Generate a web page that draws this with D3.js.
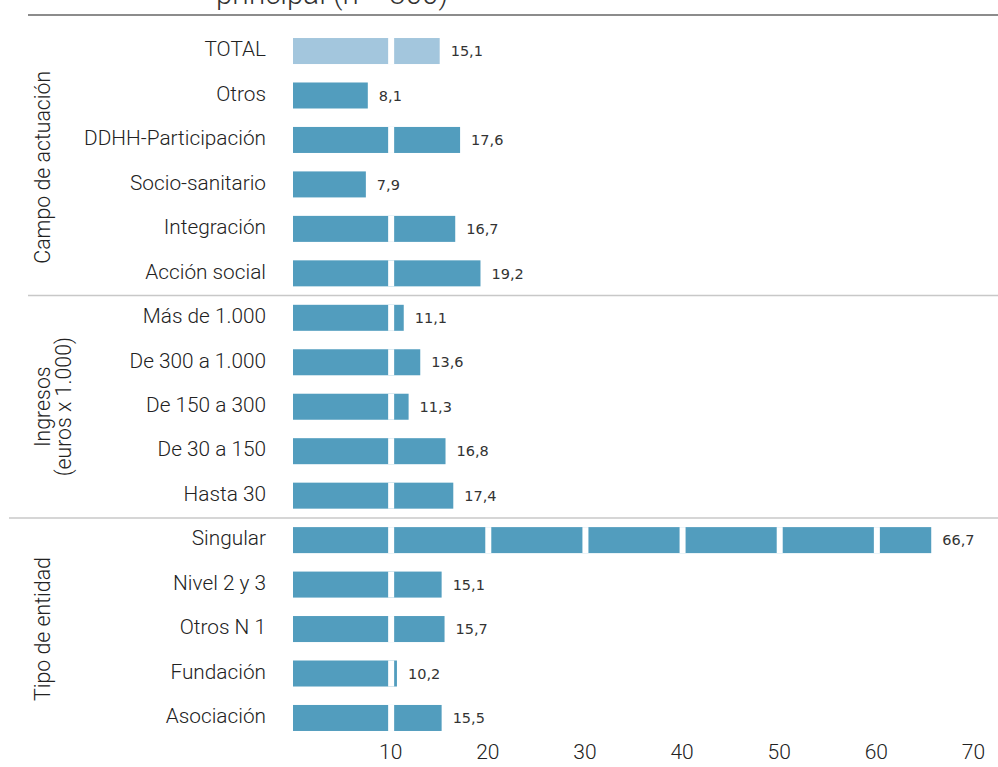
<!DOCTYPE html>
<html>
<head>
<meta charset="utf-8">
<script src="https://cdn.jsdelivr.net/npm/d3@7"></script>
<style>
  html, body { margin: 0; padding: 0; background: #fff; }
  svg { display: block; }
</style>
</head>
<body>
<svg id="chart" width="998" height="767"></svg>
<script>
// ---- data ----
const categories = [
  "TOTAL", "Otros", "DDHH-Participación", "Socio-sanitario", "Integración", "Acción social",
  "Más de 1.000", "De 300 a 1.000", "De 150 a 300", "De 30 a 150", "Hasta 30",
  "Singular", "Nivel 2 y 3", "Otros N 1", "Fundación", "Asociación"
];
// bar lengths as drawn in the reference
const barValues = [15.1, 7.7, 17.2, 7.5, 16.7, 19.3, 11.4, 13.1, 11.9, 15.7, 16.5, 65.7, 15.3, 15.6, 10.7, 15.3];
// printed value labels
const valueLabels = ["15,1", "8,1", "17,6", "7,9", "16,7", "19,2", "11,1", "13,6", "11,3", "16,8", "17,4", "66,7", "15,1", "15,7", "10,2", "15,5"];
const groupOf = [0, 0, 0, 0, 0, 0, 1, 1, 1, 1, 1, 2, 2, 2, 2, 2];
const groupNames = [["Campo de actuación"], ["Ingresos", "(euros x 1.000)"], ["Tipo de entidad"]];
const xTicks = [10, 20, 30, 40, 50, 60, 70];
const titleText = "principal (n = 300)";

// ---- layout ----
const svg = d3.select("#chart");
const x = d3.scaleLinear().domain([0, 70]).range([293, 973]);
const y = d3.scaleBand().domain(categories).range([28.8, 740.2]).paddingInner(0.415).paddingOuter(0.2075);

const colMain = "#529dbe", colTotal = "#a3c6dd";
const labelFont = "Roboto, sans-serif";

// title (cut at top, as in the reference)
svg.append("text").attr("x", 216).attr("y", 4)
  .attr("font-family", labelFont).attr("font-weight", 300).attr("font-size", 29.5).attr("fill", "#333")
  .text(titleText);

// bars
const bars = svg.append("g");
categories.forEach((c, i) => {
  bars.append("rect")
    .attr("x", x(0))
    .attr("y", y(c))
    .attr("width", x(barValues[i]) - x(0))
    .attr("height", y.bandwidth())
    .attr("fill", i === 0 ? colTotal : colMain);
  // white gridlines cutting the bar
  xTicks.filter(t => t < barValues[i]).forEach(t => {
    bars.append("rect")
      .attr("x", x(t) - 2)
      .attr("y", y(c))
      .attr("width", 6)
      .attr("height", y.bandwidth())
      .attr("fill", "#fff");
  });
});

// top rule
svg.append("line").attr("x1", 28).attr("x2", 998).attr("y1", 15).attr("y2", 15)
  .attr("stroke", "#8c8c8c").attr("stroke-width", 2);

// group separators
const sep1 = (y(categories[5]) + y.bandwidth() + y(categories[6])) / 2;
const sep2 = (y(categories[10]) + y.bandwidth() + y(categories[11])) / 2;
svg.append("line").attr("x1", 28).attr("x2", 998).attr("y1", sep1).attr("y2", sep1)
  .attr("stroke", "#c8c8c8").attr("stroke-width", 1.5);
svg.append("line").attr("x1", 9).attr("x2", 998).attr("y1", sep2).attr("y2", sep2)
  .attr("stroke", "#c8c8c8").attr("stroke-width", 1.5);

// value labels
svg.append("g").selectAll("text").data(categories).join("text")
  .attr("x", (d, i) => x(barValues[i]) + 11)
  .attr("y", d => y(d) + y.bandwidth() / 2)
  .attr("dy", "0.36em")
  .attr("font-family", "'DejaVu Sans', sans-serif").attr("font-size", 14.5).attr("fill", "#333")
  .text((d, i) => valueLabels[i]);

// category labels
svg.append("g").selectAll("text").data(categories).join("text")
  .attr("x", 266)
  .attr("y", d => y(d) + y.bandwidth() / 2 - 2)
  .attr("dy", "0.35em")
  .attr("text-anchor", "end")
  .attr("font-family", labelFont).attr("font-weight", 300).attr("font-size", 20.8).attr("fill", "#222")
  .text(d => d);

// group labels (rotated)
groupNames.forEach((lines, g) => {
  const idx = categories.map((c, i) => i).filter(i => groupOf[i] === g);
  const c0 = y(categories[idx[0]]) + y.bandwidth() / 2;
  const c1 = y(categories[idx[idx.length - 1]]) + y.bandwidth() / 2;
  const cy = g === 0 ? (c0 + c1) / 2 + 5 : (c0 + c1) / 2;
  lines.forEach((ln, k) => {
    const bx = 50 + k * 21;
    svg.append("text")
      .attr("transform", `translate(${bx},${cy}) rotate(-90)`)
      .attr("text-anchor", "middle")
      .attr("font-family", labelFont).attr("font-weight", 300).attr("font-size", 21.3).attr("fill", "#222")
      .text(ln);
  });
});

// x axis tick labels
const axis = d3.axisBottom(x).tickValues(xTicks).tickSize(0).tickPadding(0).tickFormat(d3.format("d"));
const ax = svg.append("g").attr("transform", "translate(0,744)").call(axis);
ax.select(".domain").remove();
ax.selectAll("text").attr("font-family", labelFont).attr("font-weight", 300).attr("font-size", 21).attr("fill", "#222").attr("dy", "0.71em");
</script>
</body>
</html>
